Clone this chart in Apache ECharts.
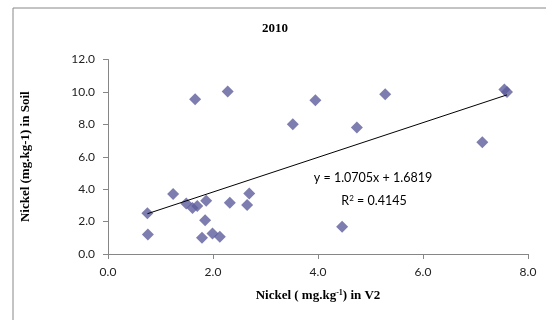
<!DOCTYPE html>
<html>
<head>
<meta charset="utf-8">
<script src="https://cdn.jsdelivr.net/npm/echarts@6/dist/echarts.min.js"></script>
<style>
html,body{margin:0;padding:0;background:#fff;}
#chart{width:546px;height:320px;}
</style>
</head>
<body>
<div id="chart"></div>
<script>
//散点数据 (x: Nickel in V2, y: Nickel in Soil)
var nickelV2   = [0.75, 0.76, 1.24, 1.49, 1.61, 1.70, 1.66, 1.87, 1.85, 1.79, 1.99, 2.13, 2.28, 2.32, 2.65, 2.69, 3.52, 3.95, 5.28, 4.74, 7.13, 7.55, 7.60, 4.46];
var nickelSoil = [2.51, 1.21, 3.70, 3.12, 2.84, 2.96, 9.54, 3.29, 2.08, 1.01, 1.27, 1.07, 10.03, 3.16, 3.02, 3.74, 8.01, 9.49, 9.85, 7.81, 6.89, 10.15, 10.00, 1.68];
//趋势线系数
var trendCoef = [1.0705, 1.6819];
var rSquared = 0.4145;

var chart = echarts.init(document.getElementById('chart'));

var points = [];
for (var i = 0; i < nickelV2.length; i++) {
	points.push([nickelV2[i], nickelSoil[i]]);
}
var xMin = Math.min.apply(null, nickelV2);
var xMax = Math.max.apply(null, nickelV2);
var trendData = [
	[xMin, trendCoef[0] * xMin + trendCoef[1]],
	[xMax, trendCoef[0] * xMax + trendCoef[1]]
];

var sans = 'Lato, "Open Sans", sans-serif';
var serif = '"Liberation Serif", serif';

var option = {
	animation: false,
	title: {
		text: '2010',
		left: 270,
		textAlign: 'center',
		top: 17,
		textStyle: {
			fontFamily: serif,
			fontWeight: 'bold',
			fontSize: 13,
			color: '#000'
		}
	},
	grid: {
		left: 108,
		right: 18,
		top: 59.5,
		bottom: 66
	},
	xAxis: {
		type: 'value',
		min: 0,
		max: 8,
		interval: 2,
		splitLine: { show: false },
		axisLine: { lineStyle: { color: '#868686' } },
		axisTick: { show: true, length: 5, lineStyle: { color: '#868686' } },
		axisLabel: {
			formatter: function (v) { return v.toFixed(1); },
			fontFamily: sans,
			fontSize: 12,
			color: '#222',
			margin: 12
		},
		name: '{b|Nickel ( mg.kg}{s|-1}{b|) in V2}',
		nameLocation: 'middle',
		nameGap: 35,
		nameTextStyle: {
			rich: {
				b: { fontFamily: serif, fontWeight: 'bold', fontSize: 13, color: '#000' },
				s: { fontFamily: serif, fontWeight: 'bold', fontSize: 8, color: '#000', verticalAlign: 'top', padding: [0, 0, 6, 0] }
			}
		}
	},
	yAxis: {
		type: 'value',
		min: 0,
		max: 12,
		interval: 2,
		splitLine: { show: false },
		axisLine: { show: true, lineStyle: { color: '#868686' } },
		axisTick: { show: true, length: 5, lineStyle: { color: '#868686' } },
		axisLabel: {
			formatter: function (v) { return v.toFixed(1); },
			fontFamily: sans,
			fontSize: 12,
			color: '#222',
			margin: 13
		},
		name: 'Nickel (mg.kg-1) in Soil',
		nameLocation: 'middle',
		nameGap: 76,
		nameTextStyle: {
			fontFamily: serif,
			fontWeight: 'bold',
			fontSize: 13,
			color: '#000'
		}
	},
	graphic: [
		{
			type: 'rect',
			shape: { x: 13, y: 8, width: 600, height: 400 },
			style: { fill: 'none', stroke: '#888', lineWidth: 1 },
			silent: true
		},
		{
			type: 'text',
			x: 373, y: 178,
			style: {
				text: 'y = ' + trendCoef[0] + 'x + ' + trendCoef[1],
				fontFamily: sans, fontSize: 12.5, fill: '#000',
				align: 'center', verticalAlign: 'middle'
			}
		},
		{
			type: 'text',
			x: 374, y: 201,
			style: {
				text: '{a|R}{s|2}{a| = ' + rSquared + '}',
				align: 'center', verticalAlign: 'middle',
				rich: {
					a: { fontFamily: sans, fontSize: 12.5, fill: '#000' },
					s: { fontFamily: sans, fontSize: 8, fill: '#000', verticalAlign: 'top', padding: [0, 0, 6, 0] }
				}
			}
		}
	],
	series: [
		{
			type: 'line',
			data: trendData,
			symbol: 'none',
			lineStyle: { color: '#000', width: 1 },
			z: 3
		},
		{
			type: 'scatter',
			data: points,
			symbol: 'diamond',
			symbolSize: 12,
			itemStyle: { color: '#5c5c9c' },
			z: 2
		}
	]
};
chart.setOption(option);
</script>
</body>
</html>
